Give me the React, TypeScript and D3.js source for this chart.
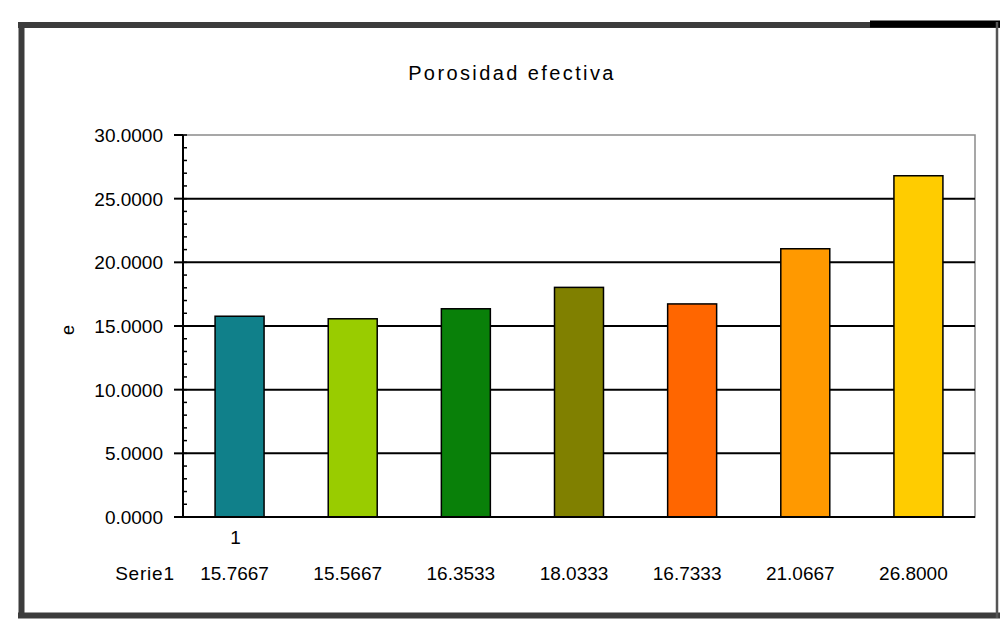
import React from "react";
import * as d3 from "d3";

const chartTitle = "Porosidad efectiva";
const seriesName = "Serie1";
const categoryLabel = "1";
const yAxisLabel = "e";
const values = [15.7667, 15.5667, 16.3533, 18.0333, 16.7333, 21.0667, 26.8];
const barColors = ["#10808a", "#99cc00", "#098009", "#808000", "#ff6600", "#ff9900", "#ffcc00"];
const yTicks = [0, 5, 10, 15, 20, 25, 30];
const yMinorTicks = d3.range(0, 31, 1);

const W = 1002;
const H = 620;
const plot = { left: 183, right: 975, top: 135, bottom: 517 };
const FONT = "'Liberation Sans', Arial, sans-serif";

export default function App() {
  const x = d3
    .scaleBand<number>()
    .domain(values.map((_, i) => i))
    .range([plot.left, plot.right])
    .paddingInner(0.567)
    .paddingOuter(0.2835);
  const y = d3.scaleLinear().domain([0, 30]).range([plot.bottom, plot.top]);
  const fmt = d3.format(".4f");
  const bw = x.bandwidth();

  return (
    <svg
      width={W}
      height={H}
      style={{ position: "absolute", left: 0, top: 0, background: "#fff" }}
      fontFamily={FONT}
    >
      <rect x={0} y={0} width={W} height={H} fill="#fff" />
      {/* outer frame */}
      <line x1={18} x2={1000} y1={25} y2={25} stroke="#3c3c3c" strokeWidth={6} />
      <line x1={870} x2={1000} y1={24} y2={24} stroke="#000" strokeWidth={7} />
      <line x1={21.5} x2={21.5} y1={22} y2={618} stroke="#3c3c3c" strokeWidth={6} />
      <line x1={18} x2={1000} y1={615.5} y2={615.5} stroke="#3c3c3c" strokeWidth={6} />
      <line x1={997} x2={997} y1={22} y2={618} stroke="#555" strokeWidth={2.5} />

      {/* title */}
      <text x={512} y={80} textAnchor="middle" fontSize={20} letterSpacing={2.4} fill="#000">
        {chartTitle}
      </text>

      {/* plot area border */}
      <rect
        x={plot.left}
        y={plot.top}
        width={plot.right - plot.left}
        height={plot.bottom - plot.top}
        fill="none"
        stroke="#8a8a8a"
        strokeWidth={1.5}
      />

      {/* gridlines */}
      {yTicks
        .filter((t) => t > 0 && t < 30)
        .map((t) => (
          <line key={"g" + t} x1={plot.left} x2={plot.right} y1={y(t)} y2={y(t)} stroke="#000" strokeWidth={2} />
        ))}

      {/* bars */}
      {values.map((v, i) => (
        <rect
          key={"b" + i}
          x={x(i)}
          y={y(v)}
          width={bw}
          height={y(0) - y(v)}
          fill={barColors[i]}
          stroke="#000"
          strokeWidth={1.5}
        />
      ))}

      {/* y axis */}
      <line x1={plot.left} x2={plot.left} y1={plot.top} y2={plot.bottom} stroke="#000" strokeWidth={2} />
      {yMinorTicks.map((t) => (
        <line key={"m" + t} x1={plot.left} x2={plot.left + 4} y1={y(t)} y2={y(t)} stroke="#000" strokeWidth={1.5} />
      ))}
      {yTicks.map((t) => (
        <g key={"t" + t}>
          <line x1={plot.left - 9} x2={plot.left} y1={y(t)} y2={y(t)} stroke="#000" strokeWidth={2} />
          <text x={163} y={y(t)} dy="0.36em" textAnchor="end" fontSize={19} fill="#000">
            {fmt(t)}
          </text>
        </g>
      ))}
      {/* x axis */}
      <line x1={plot.left - 9} x2={plot.right} y1={plot.bottom} y2={plot.bottom} stroke="#000" strokeWidth={2} />

      {/* y axis label */}
      <text
        transform={`translate(${74},${(plot.top + plot.bottom) / 2 + 4}) rotate(-90)`}
        textAnchor="middle"
        fontSize={18}
        fill="#000"
      >
        {yAxisLabel}
      </text>

      {/* category label */}
      <text x={(x(0) as number) + bw / 2 - 4} y={544} textAnchor="middle" fontSize={19} fill="#000">
        {categoryLabel}
      </text>

      {/* data table */}
      <text x={145} y={580} textAnchor="middle" fontSize={19} letterSpacing={0.8} fill="#000">
        {seriesName}
      </text>
      {values.map((v, i) => (
        <text
          key={"v" + i}
          x={(x(i) as number) + bw / 2 - 5}
          y={580}
          textAnchor="middle"
          fontSize={19}
          fill="#000"
        >
          {fmt(v)}
        </text>
      ))}
    </svg>
  );
}
